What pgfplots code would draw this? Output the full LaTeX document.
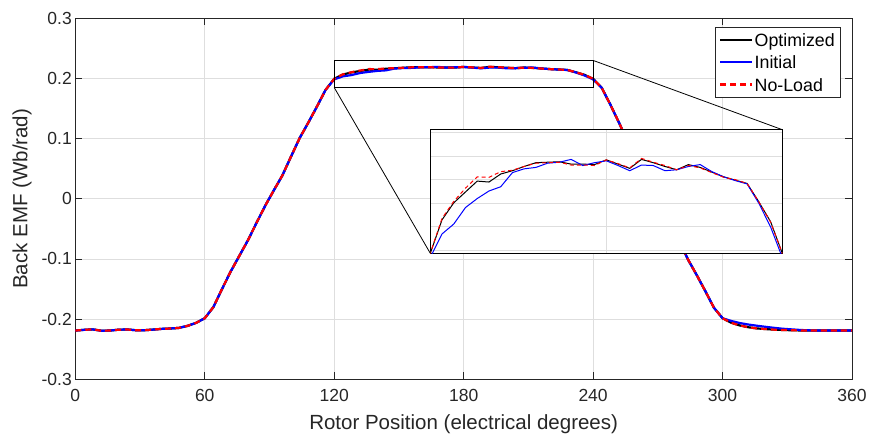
\documentclass[border=0pt]{standalone}
\usepackage{pgfplots}
\usepackage{pgfplotstable}
\pgfplotsset{compat=1.18}
\usepackage{fontspec}
\setmainfont{Liberation Sans}
\definecolor{axgray}{RGB}{38,38,38}
\definecolor{gridgray}{RGB}{222,222,222}
\definecolor{mblue}{RGB}{0,0,255}
\definecolor{mred}{RGB}{255,0,0}

\pgfplotstableread{
x opt ini nol
0 -0.2190 -0.2190 -0.2190
4 -0.2178 -0.2178 -0.2178
8 -0.2170 -0.2170 -0.2170
12 -0.2192 -0.2192 -0.2192
16 -0.2190 -0.2190 -0.2190
20 -0.2176 -0.2176 -0.2176
24 -0.2172 -0.2172 -0.2172
28 -0.2184 -0.2184 -0.2184
32 -0.2184 -0.2184 -0.2184
36 -0.2174 -0.2174 -0.2174
40 -0.2162 -0.2162 -0.2162
44 -0.2156 -0.2156 -0.2156
48 -0.2146 -0.2146 -0.2146
52 -0.2112 -0.2112 -0.2112
56 -0.2062 -0.2062 -0.2062
60 -0.1985 -0.1985 -0.1985
64 -0.1800 -0.1800 -0.1800
68 -0.1500 -0.1500 -0.1500
72 -0.1210 -0.1210 -0.1210
76 -0.0950 -0.0950 -0.0950
80 -0.0690 -0.0690 -0.0690
84 -0.0400 -0.0400 -0.0400
88 -0.0116 -0.0116 -0.0116
92 0.0140 0.0140 0.0140
96 0.0390 0.0390 0.0390
100 0.0703 0.0703 0.0703
104 0.1010 0.1010 0.1010
108 0.1266 0.1266 0.1266
112 0.1533 0.1533 0.1533
116 0.1810 0.1810 0.1810
120 0.1994 0.1985 0.1994
124 0.2065 0.2035 0.2068
128 0.2101 0.2056 0.2104
132 0.2124 0.2091 0.2132
136 0.2147 0.2110 0.2156
140 0.2145 0.2126 0.2155
144 0.2162 0.2135 0.2167
148 0.2169 0.2165 0.2170
152 0.2178 0.2173 0.2178
156 0.2186 0.2176 0.2185
160 0.2187 0.2185 0.2186
164 0.2188 0.2187 0.2187
168 0.2183 0.2193 0.2181
172 0.2183 0.2180 0.2181
176 0.2182 0.2186 0.2180
180 0.2192 0.2190 0.2192
184 0.2183 0.2180 0.2184
188 0.2174 0.2169 0.2175
192 0.2193 0.2181 0.2195
196 0.2186 0.2180 0.2187
200 0.2178 0.2169 0.2180
204 0.2171 0.2171 0.2171
208 0.2182 0.2178 0.2180
212 0.2176 0.2182 0.2175
216 0.2166 0.2167 0.2165
220 0.2156 0.2156 0.2155
224 0.2149 0.2148 0.2150
228 0.2142 0.2141 0.2142
232 0.2103 0.2100 0.2103
236 0.2061 0.2050 0.2060
240 0.1994 0.1985 0.1994
244 0.1845 0.1845 0.1845
248 0.1565 0.1565 0.1565
252 0.1266 0.1266 0.1266
256 0.0950 0.0950 0.0950
260 0.0690 0.0690 0.0690
264 0.0400 0.0400 0.0400
268 0.0116 0.0116 0.0116
272 -0.0140 -0.0140 -0.0140
276 -0.0390 -0.0390 -0.0390
280 -0.0703 -0.0703 -0.0703
284 -0.1010 -0.1010 -0.1010
288 -0.1266 -0.1266 -0.1266
292 -0.1533 -0.1533 -0.1533
296 -0.1810 -0.1810 -0.1810
300 -0.1985 -0.1985 -0.1985
304 -0.2060 -0.2030 -0.2060
308 -0.2105 -0.2065 -0.2105
312 -0.2135 -0.2090 -0.2135
316 -0.2155 -0.2110 -0.2155
320 -0.2165 -0.2128 -0.2165
324 -0.2175 -0.2145 -0.2175
328 -0.2180 -0.2160 -0.2180
332 -0.2185 -0.2170 -0.2185
336 -0.2188 -0.2180 -0.2188
340 -0.2190 -0.2186 -0.2190
344 -0.2190 -0.2190 -0.2190
348 -0.2190 -0.2190 -0.2190
352 -0.2190 -0.2190 -0.2190
356 -0.2190 -0.2190 -0.2190
360 -0.2190 -0.2190 -0.2190
}\emfdata

\begin{document}
\begin{tikzpicture}
\useasboundingbox (0,0) rectangle (870pt,434pt);
\begin{axis}[
  name=main,
  at={(75.3pt,54.7pt)}, anchor=south west,
  width=776.7pt, height=361pt, scale only axis,
  xmin=0, xmax=360, ymin=-0.3, ymax=0.3,
  xtick={0,60,120,180,240,300,360},
  xticklabels={0,60,120,180,240,300,360},
  ytick={-0.3,-0.2,-0.1,0,0.1,0.2,0.3},
  yticklabels={-0.3,-0.2,-0.1,0,0.1,0.2,0.3},
  tick align=inside, major tick length=7pt,
  tick style={axgray, line width=0.8pt},
  axis line style={axgray, line width=0.8pt},
  grid=major, major grid style={gridgray, line width=0.8pt},
  tick label style={font=\fontsize{17.5}{21}\selectfont, text=axgray},
  xticklabel style={yshift=-6pt},
  label style={font=\fontsize{20.5}{24}\selectfont, text=axgray},
  xlabel={Rotor Position (electrical degrees)},
  ylabel={Back EMF (Wb/rad)},
  xlabel style={at={(axis description cs:0.5,-0.1385)}, anchor=base},
  ylabel style={at={(axis description cs:-0.0618,0.5)}, anchor=base},
  legend style={at={(0.98545,0.9767)}, anchor=north east, draw=axgray,
    line width=0.8pt, fill=white,
    font=\fontsize{17.8}{21}\selectfont,
    nodes={inner sep=1.5pt, text height=15pt, text depth=2pt},
    row sep=2.2pt, inner xsep=4pt, inner ysep=3pt},
  legend cell align=left,
  legend image code/.code={\draw[#1, line width=2.2pt] (0pt,0pt) -- (32pt,0pt);},
]
\addplot[black, line width=2.2pt] table[x=x,y=opt]{\emfdata};
\addlegendentry{Optimized}
\addplot[mblue, line width=2.2pt] table[x=x,y=ini]{\emfdata};
\addlegendentry{Initial}
\addplot[mred, line width=2.2pt, dash pattern=on 6pt off 4pt] table[x=x,y=nol]{\emfdata};
\addlegendentry{No-Load}
\draw[black, line width=0.8pt] (axis cs:120,0.185) rectangle (axis cs:240,0.23);
\coordinate (zbl) at (axis cs:120,0.185);
\coordinate (ztr) at (axis cs:240,0.23);
\end{axis}
\begin{axis}[
  name=inset,
  at={(430.3pt,180.7pt)}, anchor=south west,
  width=352pt, height=123.6pt, scale only axis,
  xmin=120, xmax=240, ymin=0.1994, ymax=0.2256,
  xtick={120,180,240}, ytick={0.2,0.205,0.21,0.215,0.22,0.225},
  xticklabels={}, yticklabels={},
  major tick length=0pt,
  grid=major, major grid style={gridgray, line width=0.8pt},
  axis line style={black, line width=0.9pt},
  axis background/.style={fill=white},
]
\addplot[black, line width=1pt] table[x=x,y=opt]{\emfdata};
\addplot[mblue, line width=1pt] table[x=x,y=ini]{\emfdata};
\addplot[mred, line width=1pt, dash pattern=on 4pt off 3pt] table[x=x,y=nol]{\emfdata};
\end{axis}
\draw[black, line width=0.8pt] (zbl) -- (inset.south west);
\draw[black, line width=0.8pt] (ztr) -- (inset.north east);
\end{tikzpicture}
\end{document}
